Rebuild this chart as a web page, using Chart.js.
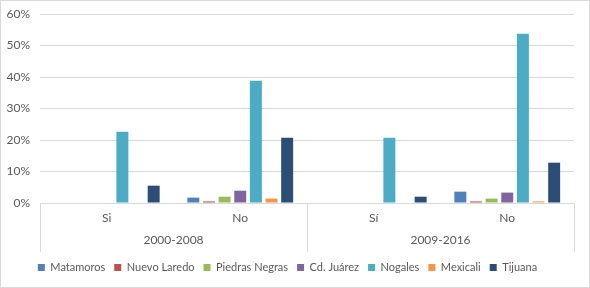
<!DOCTYPE html>
<html lang="es">
<head>
    <meta charset="UTF-8">
    <title>Chart</title>
    <script src="https://cdn.jsdelivr.net/npm/chart.js@4/dist/chart.umd.min.js"></script>
    <style>
        body { margin: 0; background: #fff; }
        #wrap { width: 590px; height: 288px; box-sizing: border-box; border: 1px solid #d9d9d9; }
        #chart { display: block; }
    </style>
</head>
<body>
    <div id="wrap"><canvas id="chart" width="588" height="286"></canvas></div>

    <script>
        // Data (percent)
        const categories = ['Si', 'No', 'Sí', 'No'];
        const groups = ['2000-2008', '2009-2016'];
        const yTicks = [0, 10, 20, 30, 40, 50, 60];

        const matamoros = [0, 1.7, 0, 3.6];
        const nuevoLaredo = [0, 0.5, 0, 0.5];
        const piedrasNegras = [0, 2.0, 0, 1.4];
        const cdJuarez = [0, 3.9, 0, 3.3];
        const nogales = [22.6, 38.8, 20.7, 53.7];
        const mexicali = [0, 1.4, 0, 0.5];
        const tijuana = [5.5, 20.7, 2.0, 12.8];

        const textColor = '#595959';
        const lineColor = '#d9d9d9';
        const font = { family: 'Lato, Carlito, sans-serif', size: 12 };

        // group labels + separator lines under the category labels
        const groupAxis = {
            id: 'groupAxis',
            afterDraw(chart) {
                const x = chart.scales.x;
                const area = chart.chartArea;
                const ctx = chart.ctx;
                const mid = (x.getPixelForValue(1) + x.getPixelForValue(2)) / 2;
                const bottom = area.bottom + 49;
                ctx.save();
                ctx.strokeStyle = lineColor;
                ctx.lineWidth = 1;
                [area.left, mid, area.right].forEach(px => {
                    const p = Math.round(px) + 0.5;
                    ctx.beginPath();
                    ctx.moveTo(p, area.bottom);
                    ctx.lineTo(p, bottom);
                    ctx.stroke();
                });
                ctx.fillStyle = textColor;
                ctx.font = font.size + 'px ' + font.family;
                ctx.textAlign = 'center';
                ctx.textBaseline = 'middle';
                groups.forEach((g, i) => {
                    const cx = (x.getPixelForValue(i * 2) + x.getPixelForValue(i * 2 + 1)) / 2;
                    ctx.fillText(g, cx, area.bottom + 37);
                });
                ctx.restore();
            }
        };

        function ds(label, data, color) {
            return { label: label, data: data, backgroundColor: color, borderWidth: 0,
                     categoryPercentage: 0.82, barPercentage: 0.766 };
        }

        new Chart(document.getElementById('chart'), {
            type: 'bar',
            data: {
                labels: categories,
                datasets: [
                    ds('Matamoros', matamoros, '#4f81bd'),
                    ds('Nuevo Laredo', nuevoLaredo, '#c0504d'),
                    ds('Piedras Negras', piedrasNegras, '#9bbb59'),
                    ds('Cd. Juárez', cdJuarez, '#8064a2'),
                    ds('Nogales', nogales, '#4bacc6'),
                    ds('Mexicali', mexicali, '#f79646'),
                    ds('Tijuana', tijuana, '#2c4d75')
                ]
            },
            options: {
                responsive: false,
                animation: false,
                layout: { padding: { top: 13, right: 15, left: 0, bottom: 4 } },
                plugins: {
                    tooltip: { enabled: false },
                    legend: {
                        position: 'bottom',
                        labels: {
                            color: textColor, font: { family: font.family, size: 11 },
                            boxWidth: 7, boxHeight: 7, padding: 9
                        }
                    }
                },
                scales: {
                    x: {
                        grid: { display: false, drawTicks: false },
                        border: { display: true, color: lineColor },
                        ticks: { color: textColor, font: font, padding: 8 },
                        afterFit(scale) { scale.height = 50; scale.paddingLeft = 0; scale.paddingRight = 0; }
                    },
                    y: {
                        min: 0, max: 60,
                        afterBuildTicks(scale) { scale.ticks = yTicks.map(v => ({ value: v })); },
                        grid: { color: lineColor, drawTicks: false },
                        border: { display: false },
                        ticks: { color: textColor, font: font, padding: 10, callback: v => v + '%' },
                        afterFit(scale) {
                            scale.width = 39; scale.paddingTop = 0; scale.paddingBottom = 0;
                        }
                    }
                }
            },
            plugins: [groupAxis]
        });
    </script>
</body>
</html>
